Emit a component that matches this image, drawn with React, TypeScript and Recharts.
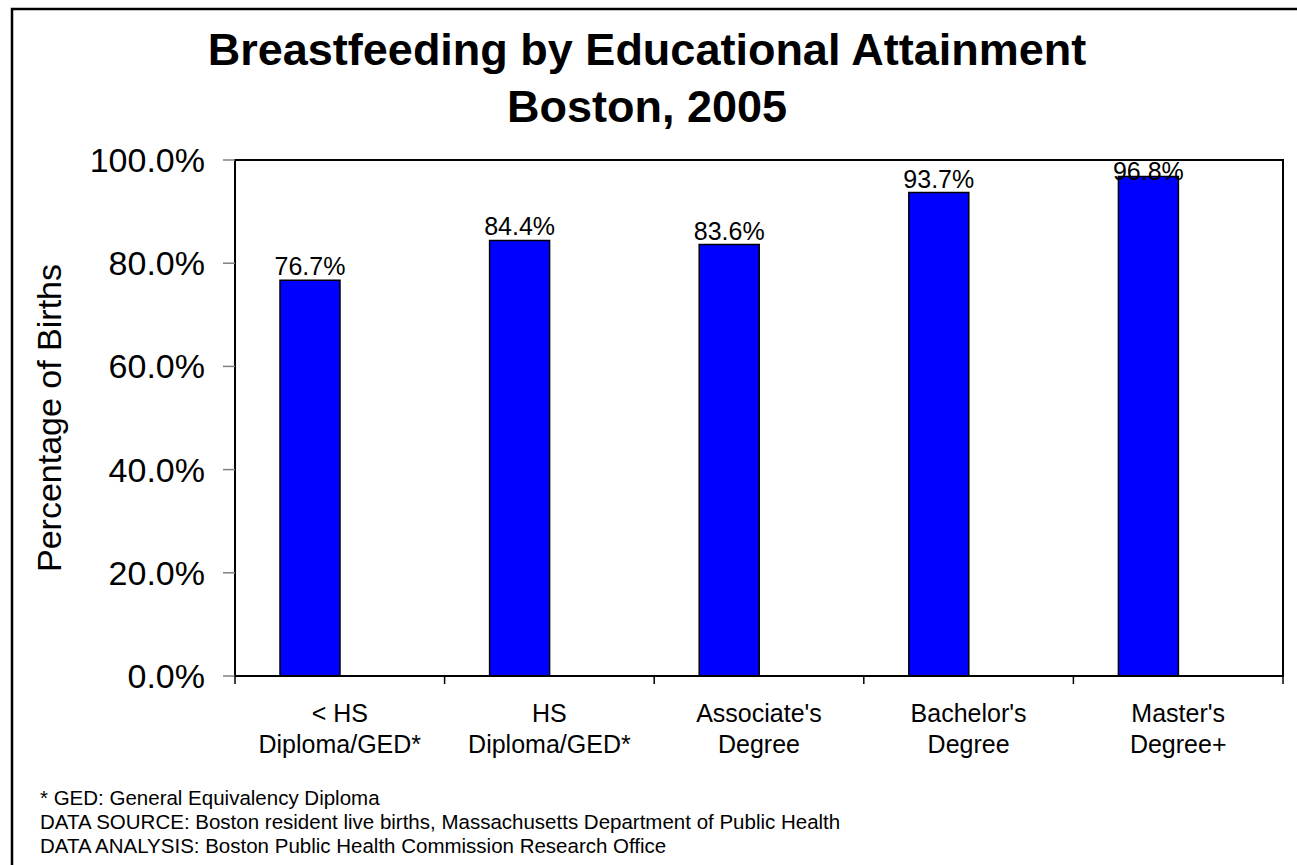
import React from 'react';
import { Bar, BarChart, LabelList, ReferenceArea, XAxis, YAxis } from 'recharts';

// Breastfeeding by educational attainment, Boston 2005 (percent of births)
const CATEGORIES = [
  '< HS\nDiploma/GED*',
  'HS\nDiploma/GED*',
  "Associate's\nDegree",
  "Bachelor's\nDegree",
  "Master's\nDegree+",
];
const BREASTFEEDING_PCT = [76.7, 84.4, 83.6, 93.7, 96.8];
const Y_TICKS = [0, 20, 40, 60, 80, 100];

const TITLE_LINES = ['Breastfeeding by Educational Attainment', 'Boston, 2005'];
const Y_LABEL = 'Percentage of Births';
const FOOTNOTES = [
  '* GED: General Equivalency Diploma',
  'DATA SOURCE: Boston resident live births, Massachusetts Department of Public Health',
  'DATA ANALYSIS: Boston Public Health Commission Research Office',
];

const data = CATEGORIES.map((name, i) => ({ name, pct: BREASTFEEDING_PCT[i] }));

const W = 1297;
const H = 865;
const FONT = '"Liberation Sans", Arial, Helvetica, sans-serif';
const MARGIN = { top: 160, right: 14, bottom: 129, left: 0 };
const Y_AXIS_W = 235;
const PLOT_W = W - MARGIN.left - MARGIN.right - Y_AXIS_W;

// category label centred in its band, with tick marks on the band edges (Excel style)
function CategoryTick(props: any) {
  const { x, y, payload, index } = props;
  const count = props.visibleTicksCount ?? CATEGORIES.length;
  const band = (typeof props.width === 'number' ? props.width : PLOT_W) / count;
  const lines = String(payload.value).split('\n');
  return (
    <g>
      <line x1={x - band / 2} x2={x - band / 2} y1={y} y2={y + 8} stroke="#000" strokeWidth={1.5} />
      {index === count - 1 && (
        <line x1={x + band / 2} x2={x + band / 2} y1={y} y2={y + 8} stroke="#000" strokeWidth={1.5} />
      )}
      {lines.map((ln, i) => (
        <text key={i} x={x} y={y + 46 + i * 31} textAnchor="middle" fontSize={25} fontFamily={FONT} fill="#000">
          {ln}
        </text>
      ))}
    </g>
  );
}

function ValueLabel(props: any) {
  const { x, y, width, value } = props;
  if (value == null) return null;
  // keep label inside the plot frame, like the original
  const baseline = Math.max(y - 5, MARGIN.top + 20);
  return (
    <text x={x + width / 2} y={baseline} textAnchor="middle" fontSize={25} fontFamily={FONT} fill="#000">
      {`${Number(value).toFixed(1)}%`}
    </text>
  );
}

export default function App() {
  return (
    <div style={{ position: 'absolute', left: 0, top: 0, width: W, height: H, background: '#fff', fontFamily: FONT }}>
      <BarChart
        width={W}
        height={H}
        data={data}
        margin={MARGIN}
        barGap={0}
        style={{ position: 'absolute', left: 0, top: 0 }}
      >
        <ReferenceArea y1={0} y2={100} fill="none" fillOpacity={0} stroke="#000" strokeWidth={2} ifOverflow="visible" />
        <XAxis
          dataKey="name"
          interval={0}
          height={60}
          tickLine={false}
          tickSize={0}
          tickMargin={0}
          axisLine={{ stroke: '#000', strokeWidth: 2 }}
          tick={<CategoryTick />}
        />
        <YAxis
          type="number"
          domain={[0, 100]}
          ticks={Y_TICKS}
          interval={0}
          width={Y_AXIS_W}
          tickSize={12}
          tickMargin={18}
          tickLine={{ stroke: '#808080', strokeWidth: 1.5 }}
          axisLine={{ stroke: '#000', strokeWidth: 2 }}
          tick={{ fontSize: 34, fill: '#000', fontFamily: FONT }}
          tickFormatter={(v: number) => `${v.toFixed(1)}%`}
        />
        <Bar dataKey="pct" barSize={60} fill="#0000FF" stroke="#000" strokeWidth={1.5} isAnimationActive={false}>
          <LabelList dataKey="pct" content={<ValueLabel />} />
        </Bar>
        {/* empty second series, as in the source chart: pushes bars left of centre */}
        <Bar dataKey="none" barSize={60} fill="#0000FF" isAnimationActive={false} />
      </BarChart>

      <svg width={W} height={H} style={{ position: 'absolute', left: 0, top: 0, pointerEvents: 'none' }}>
        <rect x={12} y={9} width={W + 20} height={H + 20} fill="none" stroke="#000" strokeWidth={2.5} />
        {TITLE_LINES.map((t, i) => (
          <text key={t} x={647} y={65 + i * 57} textAnchor="middle" fontSize={45} fontWeight="bold" fontFamily={FONT} fill="#000">
            {t}
          </text>
        ))}
        <text
          x={61}
          y={418}
          transform="rotate(-90 61 418)"
          textAnchor="middle"
          fontSize={34}
          fontFamily={FONT}
          fill="#000"
        >
          {Y_LABEL}
        </text>
        {FOOTNOTES.map((t, i) => (
          <text key={t} x={40} y={805 + i * 24} fontSize={20.5} fontFamily={FONT} fill="#000">
            {t}
          </text>
        ))}
      </svg>
    </div>
  );
}
